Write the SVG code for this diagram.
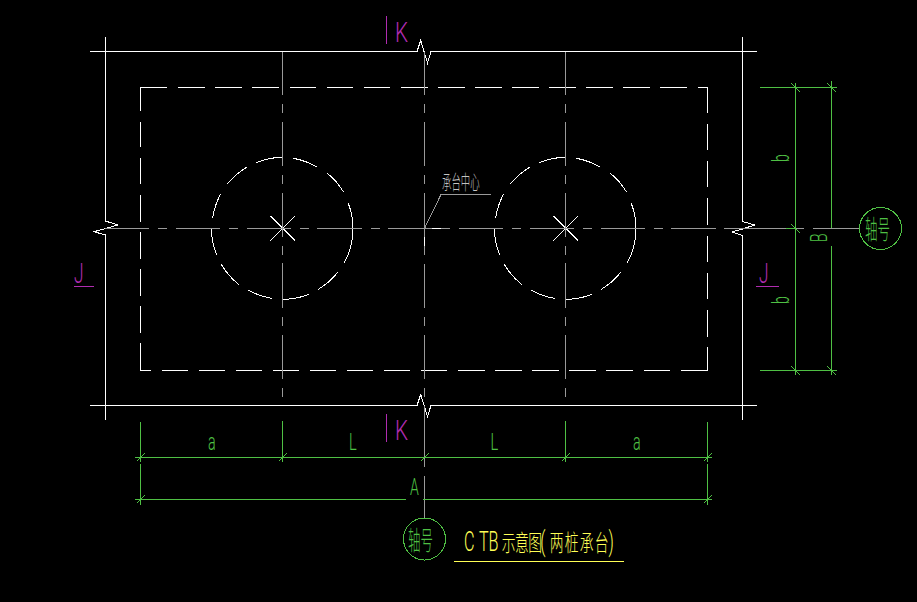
<svg xmlns="http://www.w3.org/2000/svg" xmlns:xlink="http://www.w3.org/1999/xlink" width="917" height="602" viewBox="0 0 917 602">
<style>
.w,.g,.gr,.m,.y{fill:none;stroke-width:1;shape-rendering:crispEdges}
.w{stroke:#fff}
.g{stroke:#9a9a9a}
.gr{stroke:#4fc044}
.m{stroke:#b02cb0}
.y{stroke:#ffff55}
text{font-family:"Roboto","Liberation Sans","Noto Sans CJK SC",sans-serif;font-weight:300}
.c{font-family:"Noto Sans CJK SC",sans-serif;font-weight:300}
.tg{fill:#4fc044}.tm{fill:#b02cb0}.ty{fill:#ffff55}.tl{fill:#c4c4c4}
</style>
<defs>
<g id="pile">
<path class="w" d="M348.3 203.3A71 71 0 0 1 344.3 262.7M337.7 272.3A71 71 0 0 1 318.3 289.3M309 294.3A71 71 0 0 1 282.7 299.3M271.7 298.3A71 71 0 0 1 248.3 290.3M239 284.7A71 71 0 0 1 221.3 264.3M216.7 254.7A71 71 0 0 1 211.3 228.3M212.7 217.7A71 71 0 0 1 220.7 194M227.3 184A71 71 0 0 1 246.7 167.3M256 162.7A71 71 0 0 1 282.3 157.3M293.3 158.3A71 71 0 0 1 317.3 167.3M327.3 173.3A71 71 0 0 1 343.7 192.3"/>
<path class="w" d="M270.3 216L295 240.7M295 216L270.3 240.7"/>
</g>
<path id="vc" class="g" d="M0 51.5V95M0 104V113M0 122V166M0 175V184M0 193V237M0 246V255M0 263V308M0 317V326M0 335V379M0 388V397"/>
</defs>
<rect width="917" height="602" fill="#000"/>
<g id="cap-outline">
<path class="w" d="M90 51.5H417L420.7 40.5L427.5 63L431 51.5H757"/>
<path class="w" d="M90 405.5H417L420.7 394.5L427.5 416.5L431 405.5H757"/>
<path class="w" d="M105.5 37V221L117.7 225L105.5 228.5L94 231.7L105.5 235V420"/>
<path class="w" d="M742.5 37V221.5L754.7 225L742.5 229L731.7 232L742.5 235.5V420"/>
</g>
<g id="cap-inner">
<path class="w" d="M140.5 111V87.5H167M178 87.5H205M215 87.5H242M252 87.5H279M290 87.5H316M327 87.5H353M364 87.5H390M401 87.5H428M438 87.5H465M475 87.5H502M512 87.5H539M549 87.5H576M586 87.5H613M623 87.5H650M660 87.5H687M698 87.5H707.5V113M707.5 124V150M707.5 161V187M707.5 198V225M707.5 236V262M707.5 273V299M707.5 310V337M707.5 347V370.5H681M670 370.5H644M633 370.5H606M596 370.5H569M559 370.5H532M522 370.5H495M485 370.5H458M447 370.5H421M410 370.5H384M373 370.5H347M336 370.5H310M299 370.5H273M262 370.5H236M225 370.5H199M188 370.5H162M151 370.5H140.5V343M140.5 333V306M140.5 296V269M140.5 259V232M140.5 222V195M140.5 184V158M140.5 147V122"/>
</g>
<g id="pile-left"><use xlink:href="#pile" href="#pile"/></g>
<g id="pile-right"><use xlink:href="#pile" href="#pile" transform="translate(283 0)"/></g>
<g id="connectors">
<path class="g" d="M105 228.5H149M158 228.5H167M176 228.5H220M229 228.5H238M247 228.5H291M300 228.5H309M317 228.5H362M371 228.5H380M388 228.5H450M459 228.5H503M512 228.5H521M530 228.5H574M583 228.5H592M601 228.5H645M654 228.5H663M671 228.5H716M724 228.5H804M813 228.5H859"/>
<use xlink:href="#vc" href="#vc" x="282.5"/>
<use xlink:href="#vc" href="#vc" x="565.5"/>
<path class="g" d="M424.5 51.5V95M424.5 104V113M424.5 122V166M424.5 175V184M424.5 193V237M424.5 246V255M424.5 264V308M424.5 317V326M424.5 335V379M424.5 388V397M424.5 406V467M424.5 476V518"/>
<path class="w" d="M432 228.5H441M424.5 237V246"/>
<path class="g" d="M424.5 228.5L441 194.5H491"/>
<path class="gr" d="M140.5 422V462M140.5 464V505M282.5 421V462M565.5 421V462M707.5 422V462M707.5 464V505"/>
<path class="gr" d="M135 457.5H712M135 499.5H406M423 499.5H712"/>
<path class="gr" d="M136.5 461.5L145 453M278.5 461.5L287 453M420.5 461.5L429 453M561.5 461.5L570 453M703.5 461.5L712 453M136.5 503.5L145 495M703.5 503.5L712 495"/>
<path class="gr" d="M760 87.5H837M760 370.5H837M795.500 83V375M831.500 81V228M831.500 246V375M786 228.5H796"/>
<path class="gr" d="M791.5 83.5L800 92M827.5 83.5L836 92M791.5 224.5L800 233M791.5 366.5L800 375M827.5 366.5L836 375"/>
</g>
<g id="dim-labels">
<text class="tg" font-size="23" transform="translate(208 450) scale(.62 1)">a</text>
<text class="tg" font-size="23.5" transform="translate(349 450) scale(.62 1)">L</text>
<text class="tg" font-size="23.5" transform="translate(490.500 450) scale(.62 1)">L</text>
<text class="tg" font-size="23" transform="translate(633 450) scale(.62 1)">a</text>
<text class="tg" font-size="23.5" transform="translate(410 495) scale(.6 1)">A</text>
<text class="tg" font-size="23.5" transform="translate(789 162) rotate(-90) scale(.6 1)">b</text>
<text class="tg" font-size="23.5" transform="translate(789 304) rotate(-90) scale(.6 1)">b</text>
<text class="tg" font-size="23.5" transform="translate(827 242) rotate(-90) scale(.6 1)">B</text>
</g>
<g id="section-k-top">
<path class="m" d="M386.500 16V44"/>
<text class="tm" font-size="28" transform="translate(395 42) scale(.74 1)">K</text>
</g>
<g id="section-k-bottom">
<path class="m" d="M386.500 414V442"/>
<text class="tm" font-size="28" transform="translate(395 440) scale(.74 1)">K</text>
</g>
<g id="section-j-left">
<text class="tm" font-size="28" transform="translate(74 283) scale(.62 1)">J</text>
<path class="m" d="M74 286.500H94"/>
</g>
<g id="section-j-right">
<text class="tm" font-size="28" transform="translate(759 283) scale(.62 1)">J</text>
<path class="m" d="M756 286.500H779"/>
</g>
<g id="label-center">
<text class="c tl" font-size="20" transform="translate(442 190) scale(.47 1)">承台中心</text>
</g>
<g id="axis-right">
<circle class="gr" cx="880.500" cy="228.500" r="21"/>
<text class="c tg" font-size="26" transform="translate(865 239) scale(.48 1)">轴号</text>
</g>
<g id="axis-bottom">
<circle class="gr" cx="424.500" cy="539" r="21"/>
<text class="c tg" font-size="26" transform="translate(408 550) scale(.48 1)">轴号</text>
</g>
<g id="title">
<text class="ty" font-size="27" transform="translate(464 551) scale(.6 1)"><tspan x="0 25 41">CTB</tspan><tspan class="c" font-size="23" x="63 85 107">示意图</tspan><tspan font-size="27" x="127">(</tspan><tspan class="c" font-size="23" x="143 168 193 218">两桩承台</tspan><tspan font-size="27" x="241">)</tspan></text>
<path class="y" d="M454 561.500H624"/>
</g>
</svg>
